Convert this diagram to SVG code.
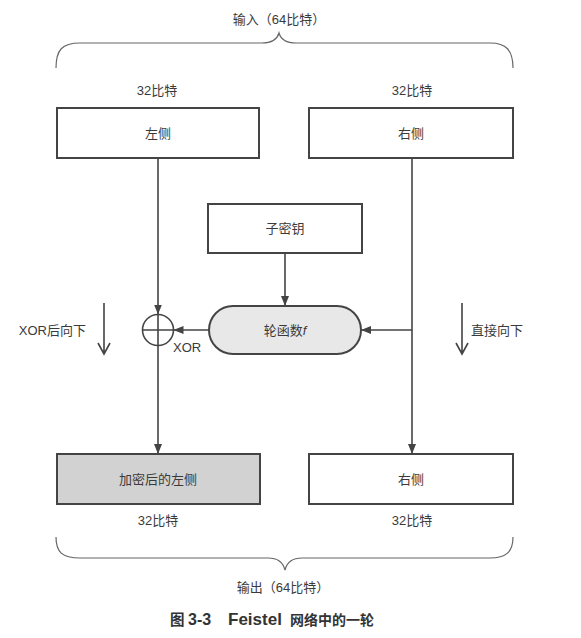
<svg xmlns="http://www.w3.org/2000/svg" width="581" height="638" viewBox="0 0 581 638">
<defs>
<style>
text{font-family:"Liberation Sans","Noto Sans CJK SC",sans-serif;fill:#3a3a3a;font-size:13px}
.c{text-anchor:middle}
.box{fill:#fff;stroke:#444;stroke-width:2}
.ln{fill:none;stroke:#444;stroke-width:1.6}
.br{fill:none;stroke:#666;stroke-width:1.2}
.cap{font-weight:bold;fill:#333}
</style>
<marker id="ah" viewBox="0 0 10 10" refX="10" refY="5" markerWidth="10" markerHeight="10" markerUnits="userSpaceOnUse" orient="auto">
<path d="M0,1 L10,5 L0,9 Z" fill="#444"/>
</marker>
</defs>
<rect width="581" height="638" fill="#fff"/>
<g id="input-label">
<text class="c" x="279" y="24">输入（64比特）</text>
<path class="br" d="M56,68 C56,50 62,43 80,43 L262,43 C272,43 277,40 279,33 C281,40 286,43 296,43 L490,43 C506,43 513,50 513,68"/>
<text class="c" x="157" y="95">32比特</text>
<text class="c" x="412" y="95">32比特</text>
</g>
<g id="left-in">
<rect class="box" x="57" y="108" width="202" height="50"/>
<text class="c" x="158" y="138">左侧</text>
</g>
<g id="right-in">
<rect class="box" x="309" y="108" width="204" height="50"/>
<text class="c" x="411" y="138">右侧</text>
</g>
<g id="subkey">
<rect class="box" x="208" y="204" width="154" height="49"/>
<text class="c" x="285" y="233">子密钥</text>
</g>
<g id="round-f">
<rect x="209" y="306" width="152" height="48" rx="24" ry="24" fill="#e8e8e8" stroke="#444" stroke-width="2"/>
<text class="c" x="285" y="335">轮函数<tspan font-style="italic">f</tspan></text>
</g>
<g id="xor">
<circle cx="158" cy="330" r="15.5" fill="#fff" stroke="#444" stroke-width="1.6"/>
<path class="ln" d="M142.5,330 H173.5 M158,314.5 V345.5"/>
<text x="173" y="352">XOR</text>
</g>
<g id="left-out">
<rect x="57" y="454" width="203" height="50" fill="#d2d2d2" stroke="#444" stroke-width="2"/>
<text class="c" x="158" y="484">加密后的左侧</text>
</g>
<g id="right-out">
<rect class="box" x="309" y="454" width="204" height="50"/>
<text class="c" x="411" y="484">右侧</text>
</g>
<g id="connectors">
<path class="ln" d="M158,158 V314.5" marker-end="url(#ah)"/>
<path class="ln" d="M158,345.5 V454" marker-end="url(#ah)"/>
<path class="ln" d="M285,253 V306" marker-end="url(#ah)"/>
<path class="ln" d="M209,330 H173.5" marker-end="url(#ah)"/>
<path class="ln" d="M412,158 V454" marker-end="url(#ah)"/>
<path class="ln" d="M412,330 H361" marker-end="url(#ah)"/>
</g>
<g id="notes">
<text x="86" y="335" text-anchor="end">XOR后向下</text>
<path class="ln" d="M104,303 V354 M98,343 L104,354 L110,343"/>
<path class="ln" d="M462,303 V354 M456,343 L462,354 L468,343"/>
<text x="471" y="335">直接向下</text>
</g>
<g id="output-label">
<text class="c" x="158" y="525">32比特</text>
<text class="c" x="412" y="525">32比特</text>
<path class="br" d="M56,537 C56,552 62,558 80,558 L268,558 C278,558 283,562 285,570 C287,562 292,558 302,558 L490,558 C506,558 513,552 513,537"/>
<text class="c" x="283" y="592">输出（64比特）</text>
</g>
<g id="caption">
<text class="cap" x="170" y="625" style="font-size:14.5px">图</text>
<text class="cap" x="188" y="625" style="font-size:16px">3-3</text>
<text class="cap" x="228" y="625" style="font-size:17px">Feistel</text>
<text class="cap" x="290" y="625" style="font-size:14px">网络中的一轮</text>
</g>
</svg>
